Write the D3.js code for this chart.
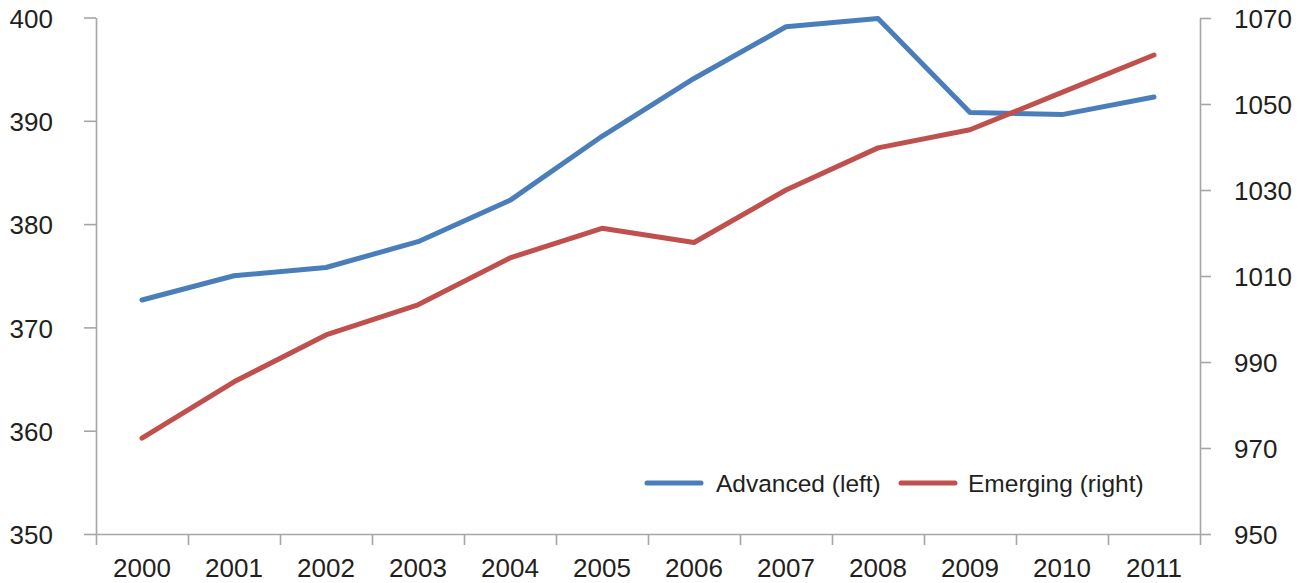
<!DOCTYPE html>
<html>
<head>
<meta charset="utf-8">
<script src="https://cdn.jsdelivr.net/npm/d3@7"></script>
<style>
  html, body { margin: 0; padding: 0; background: #fff; }
  svg { display: block; }
  text { font-family: "Liberation Sans", Arial, Helvetica, sans-serif; fill: #231f20; }
</style>
</head>
<body>
<svg id="chart" width="1308" height="583"></svg>
<script>
const years = ["2000","2001","2002","2003","2004","2005","2006","2007","2008","2009","2010","2011"];
const advanced = [372.65, 375.0, 375.8, 378.3, 382.3, 388.5, 394.1, 399.1, 399.9, 390.8, 390.6, 392.3];
const emerging = [972.3, 985.4, 996.3, 1003.3, 1014.2, 1021.1, 1017.8, 1030.0, 1039.8, 1044.0, 1052.7, 1061.4];
const leftTicks = [350, 360, 370, 380, 390, 400];
const rightTicks = [950, 970, 990, 1010, 1030, 1050, 1070];
const seriesNames = ["Advanced (left)", "Emerging (right)"];

const svg = d3.select("#chart");
const x0 = 96, x1 = 1200, yTop = 17.5, yBot = 534;
const axisColor = "#a6a6a6";
const colors = ["#4a7ebb", "#c0504d"];

const x = d3.scaleBand().domain(years).range([x0, x1]);
const xIdx = d3.scaleLinear().domain([0, years.length]).range([x0, x1]);
const yL = d3.scaleLinear().domain([350, 400]).range([yBot, yTop]);
const yR = d3.scaleLinear().domain([950, 1070]).range([yBot, yTop + 0.5]);

function styleAxis(g) {
  g.select(".domain").attr("stroke", axisColor).attr("stroke-width", 1.6);
  g.selectAll(".tick line").attr("stroke", axisColor).attr("stroke-width", 1.6);
  g.selectAll(".tick text").attr("font-family", "Liberation Sans, Arial, sans-serif").attr("fill", "#231f20");
}

// left axis
svg.append("g").attr("transform", `translate(${x0},0)`)
  .call(d3.axisLeft(yL).tickValues(leftTicks).tickSize(12).tickPadding(31).tickSizeOuter(0).tickFormat(d3.format("d")))
  .call(styleAxis)
  .call(g => g.selectAll(".tick text").attr("font-size", 26).attr("dy", "0.37em"));

// right axis
svg.append("g").attr("transform", `translate(${x1},0)`)
  .call(d3.axisRight(yR).tickValues(rightTicks).tickSize(11).tickPadding(23).tickSizeOuter(0).tickFormat(d3.format("d")))
  .call(styleAxis)
  .call(g => g.selectAll(".tick text").attr("font-size", 26).attr("dy", "0.37em"));

// bottom boundary ticks
svg.append("g").attr("transform", `translate(0,${yBot})`)
  .call(d3.axisBottom(xIdx).tickValues(d3.range(0, years.length + 1)).tickSize(11).tickFormat("").tickSizeOuter(0))
  .call(styleAxis);

// bottom labels
svg.append("g").attr("transform", `translate(0,${yBot})`)
  .call(d3.axisBottom(x).tickSize(0).tickPadding(25))
  .call(g => g.select(".domain").remove())
  .call(g => g.selectAll(".tick text").attr("font-size", 26).attr("font-family", "Liberation Sans, Arial, sans-serif").attr("fill", "#231f20"));

const cx = d => x(d) + x.bandwidth() / 2;

const lineL = d3.line().x((d, i) => cx(years[i])).y(d => yL(d));
const lineR = d3.line().x((d, i) => cx(years[i])).y(d => yR(d));

svg.append("path").datum(advanced).attr("d", lineL)
  .attr("fill", "none").attr("stroke", colors[0]).attr("stroke-width", 5)
  .attr("stroke-linejoin", "round").attr("stroke-linecap", "round");
svg.append("path").datum(emerging).attr("d", lineR)
  .attr("fill", "none").attr("stroke", colors[1]).attr("stroke-width", 5)
  .attr("stroke-linejoin", "round").attr("stroke-linecap", "round");

// legend
const legend = [
  { name: seriesNames[0], color: colors[0], lx: 647, tx: 716 },
  { name: seriesNames[1], color: colors[1], lx: 901, tx: 968 }
];
const ly = 483;
legend.forEach(l => {
  svg.append("line").attr("x1", l.lx).attr("x2", l.lx + 54).attr("y1", ly).attr("y2", ly)
    .attr("stroke", l.color).attr("stroke-width", 5).attr("stroke-linecap", "round");
  svg.append("text").attr("x", l.tx).attr("y", ly).attr("dy", "0.35em")
    .attr("font-size", 24.5).text(l.name);
});
</script>
</body>
</html>
